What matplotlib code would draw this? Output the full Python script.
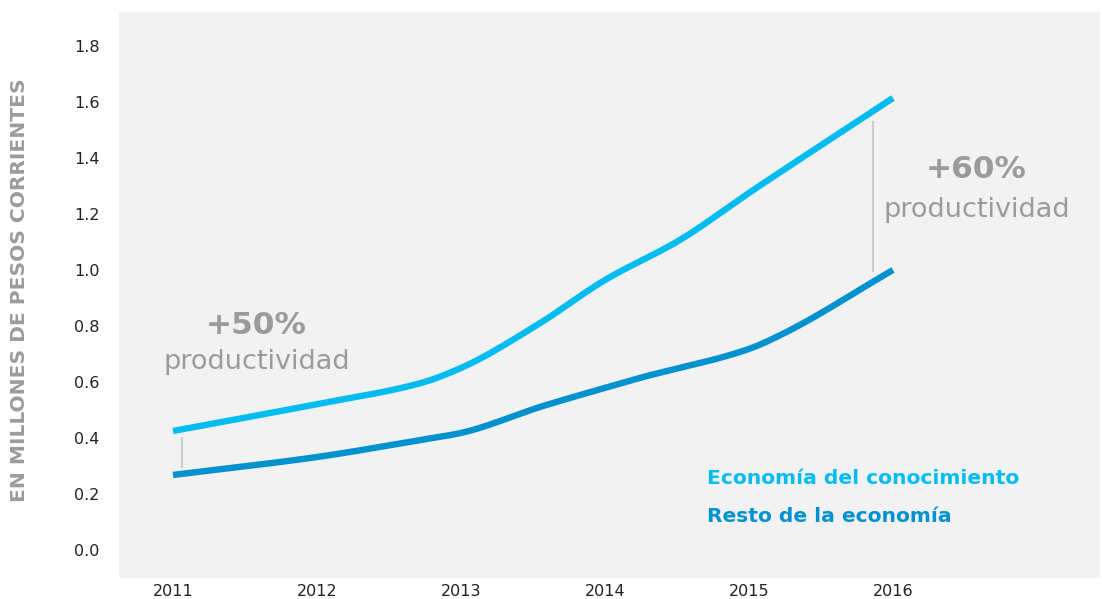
import matplotlib
matplotlib.use("Agg")
import matplotlib.pyplot as plt
import numpy as np

plt.rcParams['font.family'] = ['DejaVu Sans']

# Data
years = [2011, 2012, 2013, 2014, 2015, 2016]
year_labels = ["2011", "2012", "2013", "2014", "2015", "2016"]

conoc_x = [2011.0, 2012.0, 2012.72, 2013.0, 2013.53, 2014.0, 2014.52, 2015.0, 2016.0]
conoc_y = [0.425, 0.521, 0.596, 0.650, 0.804, 0.964, 1.107, 1.275, 1.614]

resto_x = [2011.0, 2012.0, 2012.72, 2013.0, 2013.55, 2014.0, 2014.24, 2015.0, 2015.22, 2016.0]
resto_y = [0.268, 0.332, 0.393, 0.418, 0.511, 0.579, 0.614, 0.718, 0.768, 1.000]

yticks = [0.0, 0.2, 0.4, 0.6, 0.8, 1.0, 1.2, 1.4, 1.6, 1.8]
ytick_labels = ["0.0", "0.2", "0.4", "0.6", "0.8", "1.0", "1.2", "1.4", "1.6", "1.8"]

series_names = ["Economía del conocimiento", "Resto de la economía"]
annot_pct = ["+50%", "+60%"]
annot_word = "productividad"
ylabel = "EN MILLONES DE PESOS CORRIENTES"

c_light = "#00BCF0"
c_dark = "#0091CF"
c_gray = "#9B9B9B"


def smooth_path(xs, ys, n=30):
    """Monotone cubic (Fritsch-Carlson) rendering through the given points (drawing only)."""
    x = np.asarray(xs, float)
    y = np.asarray(ys, float)
    h = np.diff(x)
    d = np.diff(y) / h
    m = np.zeros_like(y)
    m[0], m[-1] = d[0], d[-1]
    for k in range(1, len(x) - 1):
        if d[k - 1] * d[k] <= 0:
            m[k] = 0.0
        else:
            w1 = 2 * h[k] + h[k - 1]
            w2 = h[k] + 2 * h[k - 1]
            m[k] = (w1 + w2) / (w1 / d[k - 1] + w2 / d[k])
    outx, outy = [], []
    for k in range(len(x) - 1):
        t = np.linspace(0, 1, n, endpoint=False)
        h00 = 2 * t**3 - 3 * t**2 + 1
        h10 = t**3 - 2 * t**2 + t
        h01 = -2 * t**3 + 3 * t**2
        h11 = t**3 - t**2
        outx.extend(x[k] + t * h[k])
        outy.extend(h00 * y[k] + h10 * h[k] * m[k] + h01 * y[k + 1] + h11 * h[k] * m[k + 1])
    outx.append(x[-1])
    outy.append(y[-1])
    return outx, outy


fig = plt.figure(figsize=(11.02, 5.99), dpi=100)
ax = fig.add_axes([119/1102, 1-578/599, (1100-119)/1102, (578-12)/599])
ax.set_facecolor("#F2F2F2")
for s in ax.spines.values():
    s.set_visible(False)

sx, sy = smooth_path(conoc_x, conoc_y)
ax.plot(sx, sy, color=c_light, lw=4.6, solid_capstyle="butt", solid_joinstyle="round")
sx, sy = smooth_path(resto_x, resto_y)
ax.plot(sx, sy, color=c_dark, lw=4.6, solid_capstyle="butt", solid_joinstyle="round")

ax.set_xlim(2010.625, 2017.4375)
ax.set_ylim(-0.1, 1.921)
ax.set_xticks(years)
ax.set_xticklabels(year_labels)
ax.set_yticks(yticks)
ax.set_yticklabels(ytick_labels)
ax.tick_params(axis="both", length=0, labelsize=11.5, colors="#222222")
ax.tick_params(axis="y", pad=14)
ax.tick_params(axis="x", pad=4)

# gap markers
ax.plot([2011.06, 2011.06], [0.295, 0.40], color="#CCCCCC", lw=1.5)
ax.plot([2015.86, 2015.86], [0.995, 1.527], color="#CCCCCC", lw=1.5)

# annotations
ax.text(2011.58, 0.80, annot_pct[0], color=c_gray, fontsize=22.5, fontweight="bold", ha="center", va="center")
ax.text(2011.58, 0.67, annot_word, color=c_gray, fontsize=19.5, ha="center", va="center")
ax.text(2016.58, 1.36, annot_pct[1], color=c_gray, fontsize=22.5, fontweight="bold", ha="center", va="center")
ax.text(2016.58, 1.215, annot_word, color=c_gray, fontsize=19.5, ha="center", va="center")

# inline legend
ax.text(2014.71, 0.255, series_names[0], color=c_light, fontsize=14.6, fontweight="bold", ha="left", va="center")
ax.text(2014.71, 0.12, series_names[1], color=c_dark, fontsize=14.6, fontweight="bold", ha="left", va="center")

fig.text(20/1102, 1-290/599, ylabel, rotation=90, color=c_gray, fontsize=14.6, fontweight="bold", ha="center", va="center")

fig.savefig("out.png", dpi=100)
